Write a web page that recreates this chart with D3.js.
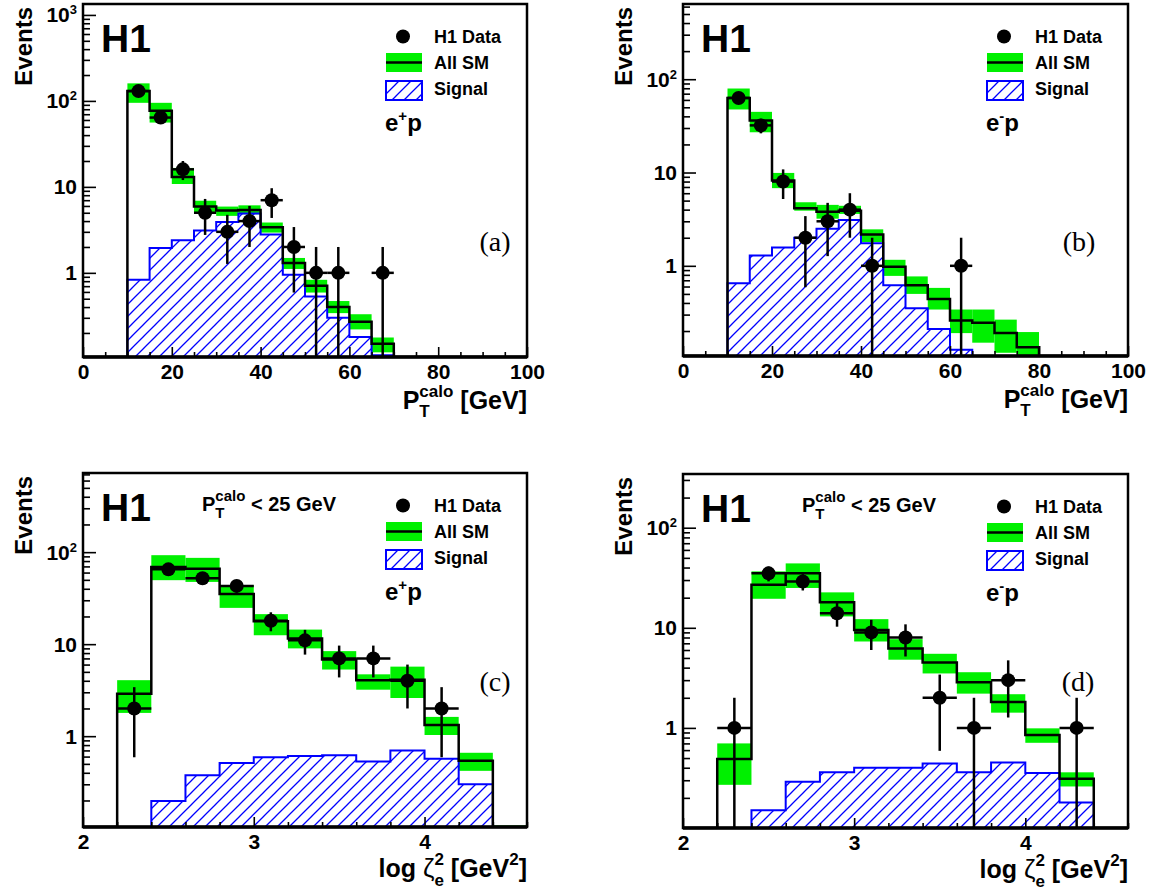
<!DOCTYPE html>
<html><head><meta charset="utf-8">
<script src="https://cdn.jsdelivr.net/npm/d3@7"></script>
<style>body{margin:0;background:#fff}svg{display:block}text{white-space:pre}</style>
</head><body><svg id="c" width="1156" height="896"></svg>
<script>
// ---------- data ----------
const ptEdges = [0,5,10,15,20,25,30,35,40,45,50,55,60,65,70,75,80,85,90,95,100];
const zetaEdges = [2.0,2.2,2.4,2.6,2.8,3.0,3.2,3.4,3.6,3.8,4.0,4.2,4.4,4.6];
const ptTicks = [0,20,40,60,80,100];
const ptMinor = [5,10,15,25,30,35,45,50,55,65,70,75,85,90,95];
const zetaTicks = [2,3,4];
const zetaMinor = [2.2,2.4,2.6,2.8,3.2,3.4,3.6,3.8,4.2,4.4,4.6];
const yTickVals = [1,10,100,1000];
const legendLabels = ['H1 Data','All SM','Signal'];
const panelTags = ['(a)','(b)','(c)','(d)'];

// (a) e+p, PT
const smA   = [0,0,130,77,13,5.9,5.3,5.4,3.4,1.3,0.71,0.40,0.27,0.15,0,0,0,0,0,0];
const smLoA = [0,0,95,56,10.8,5.0,4.6,4.8,2.94,1.11,0.59,0.34,0.22,0.119,0,0,0,0,0,0];
const smHiA = [0,0,160,95,16.6,6.9,5.9,6.1,3.85,1.49,0.83,0.47,0.33,0.177,0,0,0,0,0,0];
const sigA  = [0,0,0.83,1.95,2.4,3.1,3.9,4.9,2.8,0.95,0.53,0.30,0.18,0.11,0,0,0,0,0,0];
const dataXA = [12.5,17.5,22.5,27.5,32.5,37.5,42.5,47.5,52.5,57.5,67.5];
const dataA  = [130,64,16,5,3,4,7,2,1,1,1];
const errA   = [11.4,8,4,2.24,1.73,2,2.65,1.41,1,1,1];

// (b) e-p, PT
const smB   = [0,0,63,36,8.2,4.15,3.8,3.9,2.16,0.98,0.62,0.44,0.26,0.245,0.19,0.134,0,0,0,0];
const smLoB = [0,0,47.4,27,6.8,3.9,3.2,3.6,1.8,0.78,0.50,0.34,0.19,0.15,0.117,0.09,0,0,0,0];
const smHiB = [0,0,79.5,44.7,9.9,4.8,4.5,4.4,2.46,1.16,0.77,0.58,0.34,0.34,0.265,0.195,0,0,0,0];
const sigB  = [0,0,0.65,1.29,1.57,2.0,2.49,3.1,1.75,0.62,0.35,0.21,0.126,0.105,0.05,0.05,0,0,0,0];
const dataXB = [12.5,17.5,22.5,27.5,32.5,37.5,42.5,62.5];
const dataB  = [63,32,8,2,3,4,1,1];
const errB   = [7.9,5.7,2.8,1.41,1.73,2,1,1];

// (c) e+p, log zeta^2
const smC   = [0,2.9,69,66,35,17.8,11.5,6.8,4.06,4.1,1.32,0.54,0.09];
const smLoC = [0,1.79,49.6,47.5,24.8,12.5,9.0,5.3,3.2,2.6,1.03,0.42,0.05];
const smHiC = [0,4.06,92.7,86.7,43.8,21.2,14.4,8.4,4.7,5.7,1.62,0.66,0.107];
const sigC  = [0,0,0.197,0.377,0.51,0.59,0.61,0.62,0.53,0.70,0.57,0.30,0];
const dataXC = [2.3,2.5,2.7,2.9,3.1,3.3,3.5,3.7,3.9,4.1];
const dataC  = [2,65,52,43,18,11,7,7,4,2];
const errC   = [1.41,8.1,7.2,6.6,4.2,3.3,2.65,2.65,2,1.41];

// (d) e-p, log zeta^2
const smD   = [0,0.49,27,35,18,9.5,6.2,4.5,2.86,1.81,0.85,0.31,0];
const smLoD = [0,0.27,19.5,25,13,7.3,4.8,3.5,2.2,1.42,0.71,0.26,0];
const smHiD = [0,0.70,36.6,44,22.6,12.2,7.7,5.5,3.6,2.17,0.99,0.36,0];
const sigD  = [0,0,0.15,0.29,0.36,0.40,0.40,0.44,0.36,0.45,0.355,0.18,0];
const dataXD = [2.3,2.5,2.7,2.9,3.1,3.3,3.5,3.7,3.9,4.3];
const dataD  = [1,35,29,14,9,8,2,1,3,1];
const errD   = [1,5.9,5.4,3.74,3,2.83,1.41,1,1.73,1];

// ---------- drawing ----------
const GREEN = '#00f000', BLUE = '#0000ff';
const SANS = "'Liberation Sans', Arial, Helvetica, sans-serif";
const SERIF = "'Liberation Serif', 'Times New Roman', serif";
const svg = d3.select('#c');
svg.append('rect').attr('width',1156).attr('height',896).attr('fill','#fff');
const defs = svg.append('defs');
const pat = defs.append('pattern').attr('id','hatch').attr('patternUnits','userSpaceOnUse')
  .attr('width',12).attr('height',12);
pat.append('path').attr('d','M-3,3 L3,-3 M0,12 L12,0 M9,15 L15,9')
  .attr('stroke',BLUE).attr('stroke-width',1.3).attr('fill','none');

function rich(g, x, y, anchor, segs, base) {
  let cx = 0, prevStart = 0, prevW = 0;
  const els = [];
  segs.forEach(s => {
    const el = g.append('text').attr('y', y + (s.dy || 0))
      .attr('font-family', s.family || SANS).attr('font-weight', s.weight || 'bold')
      .attr('font-size', s.fs || base).attr('fill', '#000').text(s.t);
    const w = el.node().getComputedTextLength();
    let sx;
    if (s.stack) { sx = prevStart; const nw = Math.max(prevW, w); cx = prevStart + nw; prevW = nw; }
    else { sx = cx; prevStart = cx; prevW = w; cx += w; }
    el.attr('x', sx); els.push(el);
  });
  const shift = anchor === 'end' ? x - cx : anchor === 'middle' ? x - cx / 2 : x;
  els.forEach(el => el.attr('x', +el.attr('x') + shift));
}

const panels = [
  {x0:83, x1:527, y0:4, y1:357, xdom:[0,100], ydom:[0.105,1340], edges:ptEdges, sm:smA, lo:smLoA, hi:smHiA, sig:sigA,
   dx:dataXA, dy:dataA, de:errA, hw:2.5, major:ptTicks, minor:ptMinor, kind:'pt', beam:'+', cut:false, tagDx:-32, tagDy:247},
  {x0:683, x1:1128, y0:4, y1:356, xdom:[0,100], ydom:[0.108,640], edges:ptEdges, sm:smB, lo:smLoB, hi:smHiB, sig:sigB,
   dx:dataXB, dy:dataB, de:errB, hw:2.5, major:ptTicks, minor:ptMinor, kind:'pt', beam:'-', cut:false, tagDx:-49, tagDy:247},
  {x0:83, x1:527, y0:473, y1:827, xdom:[2,4.6], ydom:[0.103,725], edges:zetaEdges, sm:smC, lo:smLoC, hi:smHiC, sig:sigC,
   dx:dataXC, dy:dataC, de:errC, hw:0.1, major:zetaTicks, minor:zetaMinor, kind:'zeta', beam:'+', cut:true, tagDx:-32, tagDy:218},
  {x0:683, x1:1128, y0:474, y1:828, xdom:[2,4.6], ydom:[0.1,344], edges:zetaEdges, sm:smD, lo:smLoD, hi:smHiD, sig:sigD,
   dx:dataXD, dy:dataD, de:errD, hw:0.1, major:zetaTicks, minor:zetaMinor, kind:'zeta', beam:'-', cut:true, tagDx:-50, tagDy:217}
];

panels.forEach((p, i) => {
  const g = svg.append('g');
  const xs = d3.scaleLinear().domain(p.xdom).range([p.x0, p.x1]);
  const ys = d3.scaleLog().domain(p.ydom).range([p.y1, p.y0]).clamp(true);
  const Y = v => (v <= p.ydom[0] ? p.y1 : ys(v));
  const clipId = 'clip' + i;
  defs.append('clipPath').attr('id', clipId).append('rect')
    .attr('x', p.x0).attr('y', p.y0).attr('width', p.x1 - p.x0).attr('height', p.y1 - p.y0);
  const pg = g.append('g').attr('clip-path', `url(#${clipId})`);
  const bins = p.sm.map((v, k) => ({a:p.edges[k], b:p.edges[k+1], sm:v, lo:p.lo[k], hi:p.hi[k], sig:p.sig[k]}));

  // SM uncertainty band
  pg.selectAll('rect.band').data(bins.filter(d => d.hi > 0)).join('rect').attr('class','band')
    .attr('x', d => xs(d.a)).attr('width', d => xs(d.b) - xs(d.a))
    .attr('y', d => Y(d.hi)).attr('height', d => Math.max(0, Y(d.lo) - Y(d.hi)))
    .attr('fill', GREEN);

  const step = key => {
    let s = `M${xs(bins[0].a)},${p.y1}`;
    bins.forEach(d => { s += `L${xs(d.a)},${Y(d[key])}L${xs(d.b)},${Y(d[key])}`; });
    s += `L${xs(bins[bins.length-1].b)},${p.y1}`;
    return s;
  };
  pg.append('path').attr('d', step('sig') + 'Z').attr('fill', 'url(#hatch)');
  pg.append('path').attr('d', step('sig')).attr('fill', 'none').attr('stroke', BLUE).attr('stroke-width', 2);
  pg.append('path').attr('d', step('sm')).attr('fill', 'none').attr('stroke', '#000').attr('stroke-width', 2.5);

  // data
  const pts = p.dx.map((x, k) => ({x, y:p.dy[k], e:p.de[k]}));
  const dg = pg.append('g');
  dg.selectAll('line.v').data(pts).join('line')
    .attr('x1', d => xs(d.x)).attr('x2', d => xs(d.x))
    .attr('y1', d => Y(d.y + d.e)).attr('y2', d => Y(d.y - d.e))
    .attr('stroke', '#000').attr('stroke-width', 2.5);
  dg.selectAll('line.h').data(pts).join('line')
    .attr('x1', d => xs(d.x - p.hw)).attr('x2', d => xs(d.x + p.hw))
    .attr('y1', d => Y(d.y)).attr('y2', d => Y(d.y))
    .attr('stroke', '#000').attr('stroke-width', 2.5);
  dg.selectAll('circle').data(pts).join('circle')
    .attr('cx', d => xs(d.x)).attr('cy', d => Y(d.y)).attr('r', 7).attr('fill', '#000');

  // axes ticks (inside)
  const yMaj = yTickVals.filter(v => v >= p.ydom[0] && v <= p.ydom[1]);
  const yMin = [];
  [-1,0,1,2,3].forEach(e => [2,3,4,5,6,7,8,9].forEach(m => {
    const v = m * Math.pow(10, e); if (v > p.ydom[0] && v < p.ydom[1]) yMin.push(v);
  }));
  const axY1 = g.append('g').attr('transform', `translate(${p.x0},0)`)
    .call(d3.axisLeft(ys).tickValues(yMaj).tickSize(-13).tickFormat(''));
  const axY2 = g.append('g').attr('transform', `translate(${p.x0},0)`)
    .call(d3.axisLeft(ys).tickValues(yMin).tickSize(-7).tickFormat(''));
  const axX2 = g.append('g').attr('transform', `translate(0,${p.y1})`)
    .call(d3.axisBottom(xs).tickValues(p.minor).tickSize(-5).tickFormat(''));
  const axX1 = g.append('g').attr('transform', `translate(0,${p.y1})`)
    .call(d3.axisBottom(xs).tickValues(p.major).tickSize(-10).tickPadding(7).tickFormat(d3.format('d')));
  [axY1, axY2, axX1, axX2].forEach(a => {
    a.select('.domain').remove();
    a.selectAll('line').attr('stroke', '#000').attr('stroke-width', 1.6);
  });
  axX1.selectAll('text').attr('font-family', SANS).attr('font-weight', 'bold').attr('font-size', 21).attr('fill', '#000');

  // y tick labels with superscripts
  yMaj.forEach(v => {
    const e = Math.round(Math.log10(v));
    const t = g.append('text').attr('x', p.x0 - 6).attr('y', ys(v) + 7.5).attr('text-anchor', 'end')
      .attr('font-family', SANS).attr('font-weight', 'bold').attr('font-size', 21);
    if (e < 2) t.text(String(v));
    else { t.append('tspan').text('10'); t.append('tspan').attr('font-size', 13).attr('dy', -8).text(String(e)); }
  });

  // frame
  g.append('rect').attr('x', p.x0).attr('y', p.y0).attr('width', p.x1 - p.x0).attr('height', p.y1 - p.y0)
    .attr('fill', 'none').attr('stroke', '#000').attr('stroke-width', 2.5);
  g.append('line').attr('x1', p.x0).attr('x2', p.x1).attr('y1', p.y1).attr('y2', p.y1)
    .attr('stroke', '#000').attr('stroke-width', 3.5);

  // y title
  g.append('text').attr('transform', `translate(${p.x0 - 51},${p.y0 + 3}) rotate(-90)`)
    .attr('text-anchor', 'end').attr('font-family', SANS).attr('font-weight', 'bold').attr('font-size', 24)
    .text('Events');

  // x title
  if (p.kind === 'pt') {
    rich(g, p.x1, p.y1 + 52, 'end', [
      {t:'P'}, {t:'calo', fs:17, dy:-12}, {t:'T', fs:17, dy:8, stack:true}, {t:' [GeV]'}
    ], 25);
  } else {
    rich(g, p.x1, p.y1 + 50, 'end', [
      {t:'log '}, {t:'ζ', weight:'normal', fs:26}, {t:'2', fs:17, dy:-12}, {t:'e', fs:17, dy:9, stack:true},
      {t:' [GeV'}, {t:'2', fs:17, dy:-12}, {t:']'}
    ], 25);
  }

  // H1 label
  g.append('text').attr('x', p.x0 + 18).attr('y', p.y0 + 48).attr('font-family', SANS)
    .attr('font-weight', 'bold').attr('font-size', 39).text('H1');

  // cut label
  if (p.cut) {
    rich(g, p.x0 + 119, p.y0 + 38, 'start', [
      {t:'P'}, {t:'calo', fs:15, dy:-10}, {t:'T', fs:15, dy:7, stack:true}, {t:' < 25 GeV'}
    ], 20);
  }

  // legend
  const R = p.x1, T = p.y0;
  const lg = g.append('g');
  lg.append('circle').attr('cx', R - 124).attr('cy', T + 32.5).attr('r', 7).attr('fill', '#000');
  lg.append('rect').attr('x', R - 141).attr('y', T + 49).attr('width', 36).attr('height', 19).attr('fill', GREEN);
  lg.append('line').attr('x1', R - 141).attr('x2', R - 105).attr('y1', T + 58.5).attr('y2', T + 58.5)
    .attr('stroke', '#000').attr('stroke-width', 2.5);
  lg.append('rect').attr('x', R - 141).attr('y', T + 77).attr('width', 36).attr('height', 19)
    .attr('fill', 'url(#hatch)').attr('stroke', BLUE).attr('stroke-width', 2);
  [T + 38.5, T + 64.5, T + 91].forEach((yy, k) => {
    lg.append('text').attr('x', R - 93).attr('y', yy).attr('font-family', SANS).attr('font-weight', 'bold')
      .attr('font-size', 18).text(legendLabels[k]);
  });
  const bt = lg.append('text').attr('x', R - 142).attr('y', T + 127).attr('font-family', SANS)
    .attr('font-weight', 'bold').attr('font-size', 24);
  bt.append('tspan').text('e');
  bt.append('tspan').attr('font-size', 15).attr('dy', -10).text(p.beam);
  bt.append('tspan').attr('dy', 10).text('p');

  // panel tag
  g.append('text').attr('x', R + p.tagDx).attr('y', T + p.tagDy).attr('text-anchor', 'middle')
    .attr('font-family', SERIF).attr('font-size', 28).text(panelTags[i]);
});
</script>
</body></html>
